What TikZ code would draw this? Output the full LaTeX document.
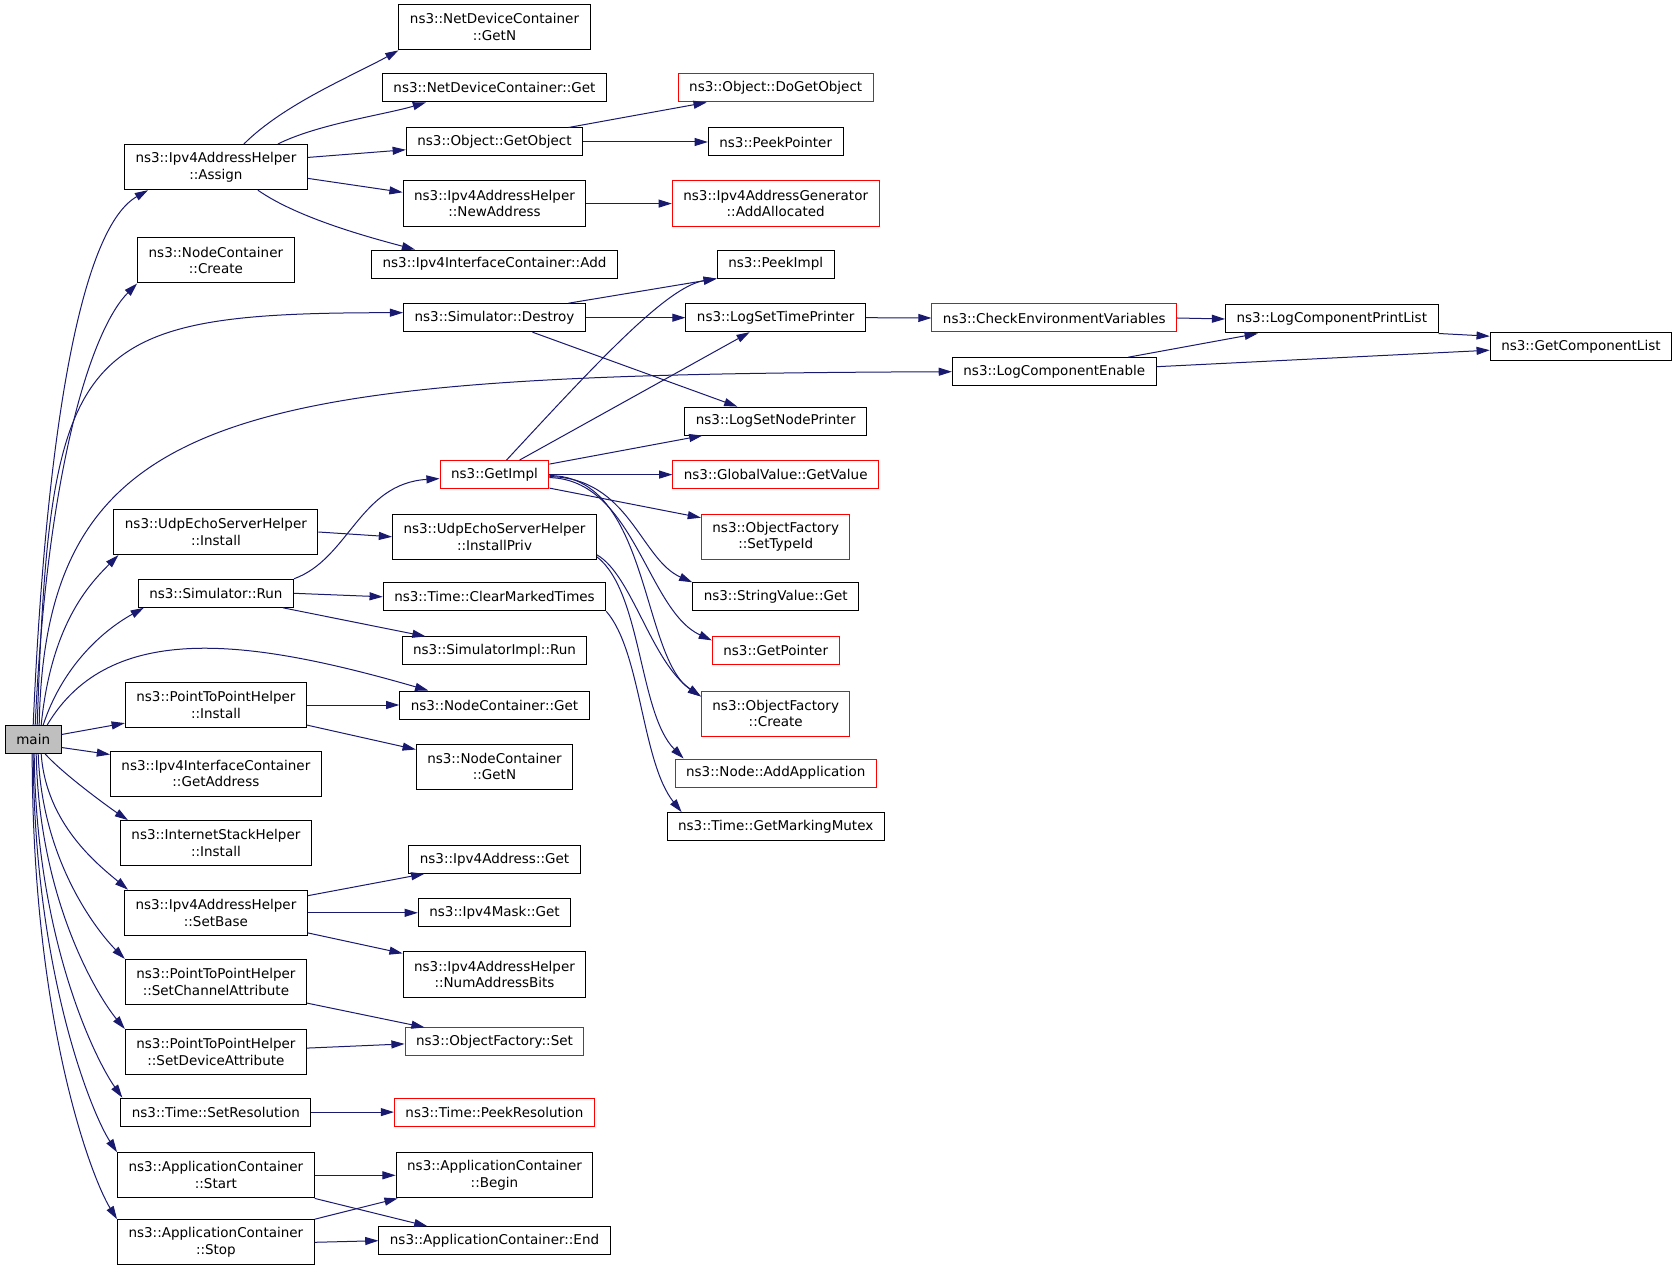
\documentclass[tikz,border=0pt]{standalone}
\usepackage{fontspec}
\newfontfamily\dejavu{DejaVu Sans}
\usepackage{tikz}
\usetikzlibrary{arrows.meta}
\definecolor{navyblue}{RGB}{25,25,112}
\tikzset{
    fnode/.style = {rectangle, draw=black, line width=0.5pt, align=center, fill=white, inner xsep=5.5pt, inner ysep=1pt, minimum height=14pt, font=\dejavu\fontsize{6.75pt}{8.35pt}\selectfont},
    fnoder/.style = {fnode, draw=red},
    fnodeg/.style = {fnode, fill=gray!50}, % root
    two/.style = {minimum height=22.6pt},   % two lines
    edgen/.style = {-{Triangle[length=6.6pt,width=4pt]}, line width=0.5pt, navyblue}
}

\begin{document}
\begin{tikzpicture}[x=0.5pt,y=0.5pt]
\useasboundingbox (0,0) rectangle (1680,-1272);
\node[fnodeg] at (  33.2, -739.5) (main) {main};
% col 1
\node[fnode,two] at ( 215.9, -167.1) (assign) {ns3::Ipv4AddressHelper\\::Assign};
\node[fnode,two] at ( 215.9, -260.4) (nccreate) {ns3::NodeContainer\\::Create};
\node[fnode,two] at ( 215.9, -532.0) (udpinst) {ns3::UdpEchoServerHelper\\::Install};
\node[fnode]     at ( 215.9, -593.3) (simrun) {ns3::Simulator::Run};
\node[fnode,two] at ( 215.9, -705.0) (p2pinst) {ns3::PointToPointHelper\\::Install};
\node[fnode,two] at ( 215.9, -773.6) (getaddr) {ns3::Ipv4InterfaceContainer\\::GetAddress};
\node[fnode,two] at ( 215.9, -843.2) (inetinst) {ns3::InternetStackHelper\\::Install};
\node[fnode,two] at ( 215.9, -912.8) (setbase) {ns3::Ipv4AddressHelper\\::SetBase};
\node[fnode,two] at ( 215.9, -982.0) (setchan) {ns3::PointToPointHelper\\::SetChannelAttribute};
\node[fnode,two] at ( 215.9,-1052.1) (setdev) {ns3::PointToPointHelper\\::SetDeviceAttribute};
\node[fnode]     at ( 215.9,-1112.1) (setres) {ns3::Time::SetResolution};
\node[fnode,two] at ( 215.9,-1175.3) (appstart) {ns3::ApplicationContainer\\::Start};
\node[fnode,two] at ( 215.9,-1242.3) (appstop) {ns3::ApplicationContainer\\::Stop};
% col 2
\node[fnode,two] at ( 494.5,  -27.3) (ndcgetn) {ns3::NetDeviceContainer\\::GetN};
\node[fnode]     at ( 494.5,  -87.9) (ndcget) {ns3::NetDeviceContainer::Get};
\node[fnode]     at ( 494.5, -142.0) (getobj) {ns3::Object::GetObject};
\node[fnode,two] at ( 494.5, -203.6) (newaddr) {ns3::Ipv4AddressHelper\\::NewAddress};
\node[fnode]     at ( 494.5, -264.1) (icadd) {ns3::Ipv4InterfaceContainer::Add};
\node[fnode]     at ( 494.5, -317.7) (destroy) {ns3::Simulator::Destroy};
\node[fnoder]    at ( 494.5, -474.6) (getimpl) {ns3::GetImpl};
\node[fnode,two] at ( 494.5, -536.8) (instpriv) {ns3::UdpEchoServerHelper\\::InstallPriv};
\node[fnode]     at ( 494.5, -596.8) (clrtimes) {ns3::Time::ClearMarkedTimes};
\node[fnode]     at ( 494.5, -650.9) (implrun) {ns3::SimulatorImpl::Run};
\node[fnode]     at ( 494.5, -705.0) (ncget) {ns3::NodeContainer::Get};
\node[fnode,two] at ( 494.5, -766.6) (ncgetn) {ns3::NodeContainer\\::GetN};
\node[fnode]     at ( 494.5, -859.3) (addrget) {ns3::Ipv4Address::Get};
\node[fnode]     at ( 494.5, -912.8) (maskget) {ns3::Ipv4Mask::Get};
\node[fnode,two] at ( 494.5, -974.5) (addrbits) {ns3::Ipv4AddressHelper\\::NumAddressBits};
\node[fnoder]    at ( 494.5,-1041.9) (ofset) {ns3::ObjectFactory::Set};
\node[fnoder]    at ( 494.5,-1112.1) (peekres) {ns3::Time::PeekResolution};
\node[fnode,two] at ( 494.5,-1175.3) (appbegin) {ns3::ApplicationContainer\\::Begin};
\node[fnode]     at ( 494.5,-1240.7) (append) {ns3::ApplicationContainer::End};
% col 3
\node[fnoder]    at ( 775.7,  -87.9) (dogetobj) {ns3::Object::DoGetObject};
\node[fnode]     at ( 775.7, -142.0) (peekptr) {ns3::PeekPointer};
\node[fnoder,two] at ( 775.7, -203.6) (addalloc) {ns3::Ipv4AddressGenerator\\::AddAllocated};
\node[fnode]     at ( 775.7, -264.1) (peekimpl) {ns3::PeekImpl};
\node[fnode]     at ( 775.7, -317.7) (timeprn) {ns3::LogSetTimePrinter};
\node[fnode]     at ( 775.7, -421.1) (nodeprn) {ns3::LogSetNodePrinter};
\node[fnoder]    at ( 775.7, -474.6) (gvget) {ns3::GlobalValue::GetValue};
\node[fnoder,two] at ( 775.7, -536.8) (settype) {ns3::ObjectFactory\\::SetTypeId};
\node[fnode]     at ( 775.7, -596.8) (strget) {ns3::StringValue::Get};
\node[fnoder]    at ( 775.7, -650.9) (getptr) {ns3::GetPointer};
\node[fnoder,two] at ( 775.7, -713.6) (ofcreate) {ns3::ObjectFactory\\::Create};
\node[fnoder]    at ( 775.7, -773.0) (addapp) {ns3::Node::AddApplication};
\node[fnode]     at ( 775.7, -826.6) (markmutex) {ns3::Time::GetMarkingMutex};
% col 4 to 6
\node[fnoder]    at (1054.3, -318.0) (checkenv) {ns3::CheckEnvironmentVariables};
\node[fnode]     at (1054.3, -371.7) (logenable) {ns3::LogComponentEnable};
\node[fnode]     at (1331.8, -319.0) (printlist) {ns3::LogComponentPrintList};
\node[fnode]     at (1580.9, -346.7) (complist) {ns3::GetComponentList};

% calls from main
\draw[edgen] (main.north) .. controls +(12,276) and +(-70,-40) .. ([xshift=12pt]assign.south west);
\draw[edgen] ([xshift=1pt]main.north) .. controls +(12,260) and +(-45,-45) .. (nccreate.south west);
\draw[edgen] ([xshift=2pt]main.north) .. controls +(13,380) and +(-330,0) .. ([yshift=2.5pt]destroy.west);
\draw[edgen] ([xshift=3pt]main.north) .. controls +(6,326) and +(-702,-3) .. (logenable.west);
\draw[edgen] ([xshift=4pt]main.north) .. controls +(10,100) and +(-30,-30) .. ([xshift=2.5pt]udpinst.south west);
\draw[edgen] ([xshift=5pt]main.north) .. controls +(18,55) and +(-45,-25) .. ([xshift=3pt]simrun.south west);
\draw[edgen] ([xshift=7pt]main.north) .. controls +(63,106) and +(-177,51) .. ([xshift=14.5pt]ncget.north west);
\draw[edgen] ([yshift=2.5pt]main.east) -- ([yshift=2.5pt]p2pinst.south west);
\draw[edgen] ([yshift=-4pt]main.east) -- ([yshift=-2pt]getaddr.north west);
\draw[edgen] ([xshift=6pt]main.south) .. controls +(20,-22) and +(-15,10) .. ([xshift=4pt]inetinst.north west);
\draw[edgen] ([xshift=4pt]main.south) .. controls +(5,-70) and +(-30,25) .. ([xshift=2pt]setbase.north west);
\draw[edgen] ([xshift=2.5pt]main.south) .. controls +(4,-110) and +(-25,25) .. (setchan.north west);
\draw[edgen] ([xshift=1.5pt]main.south) .. controls +(3,-150) and +(-25,30) .. (setdev.north west);
\draw[edgen] ([xshift=0.5pt]main.south) .. controls +(2,-190) and +(-25,35) .. ([xshift=1pt]setres.north west);
\draw[edgen] (main.south) .. controls +(1,-220) and +(-25,38) .. (appstart.north west);
\draw[edgen] ([xshift=-0.5pt]main.south) .. controls +(0,-270) and +(-25,40) .. (appstop.north west);

\draw[edgen] ([xshift=14pt]assign.north) .. controls +(40,40) and +(-45,-25) .. (ndcgetn.south west);
\draw[edgen] ([xshift=31pt]assign.north) .. controls +(40,20) and +(-40,-12) .. ([xshift=22pt]ndcget.south west);
\draw[edgen] (assign.6) -- (getobj.185);
\draw[edgen] (assign.353) -- (newaddr.173);
\draw[edgen] ([xshift=21pt]assign.south) .. controls +(40,-28) and +(-45,12) .. ([xshift=22pt]icadd.north west);
\draw[edgen] ([xshift=37pt]getobj.north) -- ([xshift=14.5pt]dogetobj.south west);
\draw[edgen] (getobj.east) -- (peekptr.west);
\draw[edgen] (newaddr.east) -- (addalloc.west);

\draw[edgen] ([xshift=37pt]destroy.north) -- (peekimpl.south west);
\draw[edgen] (destroy.east) -- (timeprn.west);
\draw[edgen] ([xshift=19pt]destroy.south) -- ([xshift=26.5pt]nodeprn.north west);
\draw[edgen] (timeprn.east) -- (checkenv.west);
\draw[edgen] (checkenv.east) -- (printlist.west);
\draw[edgen] (printlist.south east) -- ([yshift=-2pt]complist.north west);
\draw[edgen] ([xshift=37pt]logenable.north) -- ([xshift=-37pt]printlist.south);
\draw[edgen] ([yshift=2.5pt]logenable.east) -- ([yshift=-1.75pt]complist.west);

\draw[edgen] ([xshift=6pt]getimpl.north) .. controls +(90,97) and +(-50,-8) .. (peekimpl.south west);
\draw[edgen] ([xshift=12.5pt]getimpl.north) -- ([xshift=-13pt]timeprn.south);
\draw[edgen] ([yshift=-2pt]getimpl.north east) -- ([xshift=9pt]nodeprn.south west);
\draw[edgen] (getimpl.east) -- (gvget.west);
\draw[edgen] ([yshift=0.5pt]getimpl.south east) -- ([yshift=-2pt]settype.north west);
\draw[edgen] ([yshift=-1pt]getimpl.east) .. controls +(80,-1) and +(-52,23) .. (strget.north west);
\draw[edgen] ([yshift=-1.5pt]getimpl.east) .. controls +(85,-2) and +(-65,30) .. ([yshift=-2pt]getptr.north west);
\draw[edgen] ([yshift=-0.5pt]getimpl.east) .. controls +(100,0) and +(-60,40) .. ([yshift=-3pt]ofcreate.north west);

\draw[edgen] (udpinst.east) -- (instpriv.west);
\draw[edgen] ([yshift=2.5pt]instpriv.south east) .. controls +(35,-20) and +(-50,35) .. ([yshift=-3pt]ofcreate.north west);
\draw[edgen] ([yshift=1.5pt]instpriv.south east) .. controls +(45,-35) and +(-45,45) .. ([xshift=4.5pt]addapp.north west);
\draw[edgen] (simrun.north east) .. controls +(55,20) and +(-80,-5) .. ([yshift=-2pt]getimpl.west);
\draw[edgen] (simrun.east) -- (clrtimes.west);
\draw[edgen] ([xshift=33.5pt]simrun.south) -- ([xshift=12pt]implrun.north west);
\draw[edgen] (clrtimes.south east) .. controls +(35,-40) and +(-40,50) .. ([xshift=7.5pt]markmutex.north west);

\draw[edgen] (p2pinst.east) -- (ncget.west);
\draw[edgen] ([yshift=1.5pt]p2pinst.south east) -- ([yshift=-3pt]ncgetn.north west);
\draw[edgen] ([yshift=-3pt]setbase.north east) -- ([xshift=8pt]addrget.south west);
\draw[edgen] (setbase.east) -- (maskget.west);
\draw[edgen] ([yshift=1.5pt]setbase.south east) -- ([yshift=-1pt]addrbits.north west);
\draw[edgen] ([yshift=1pt]setchan.south east) -- ([xshift=10pt]ofset.north west);
\draw[edgen] ([yshift=2pt]setdev.east) -- ([yshift=-1pt]ofset.west);
\draw[edgen] (setres.east) -- (peekres.west);
\draw[edgen] (appstart.east) -- (appbegin.west);
\draw[edgen] (appstart.south east) -- ([xshift=24.5pt]append.north west);
\draw[edgen] (appstop.north east) -- ([xshift=1pt]appbegin.south west);
\draw[edgen] (appstop.east) -- (append.west);
\end{tikzpicture}
\end{document}
